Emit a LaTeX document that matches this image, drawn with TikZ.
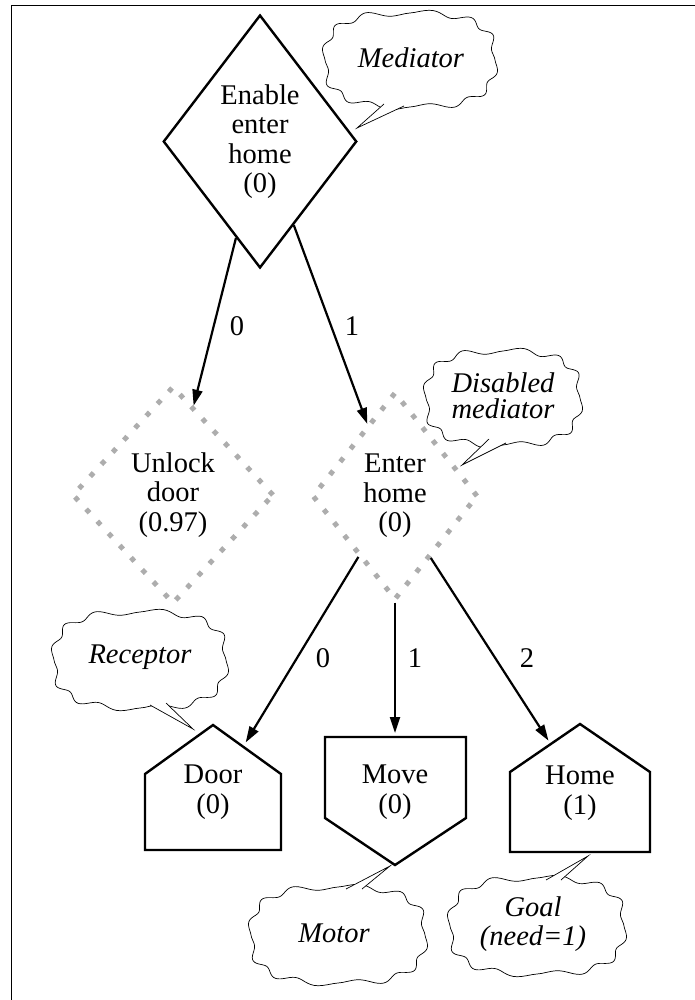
\documentclass[tikz,border=0pt]{standalone}
\usepackage{fontspec}
\setmainfont{Liberation Serif}
\usetikzlibrary{shapes.geometric,arrows.meta,calc}

% wavy speech balloon: #1 centre, #2 half width, #3 half height
% (a squarish superellipse whose radius ripples gently)
\newcommand\notecloud[3]{%
  \draw[balloon, shift={#1}]
    plot[domain=1:361, samples=181, variable=\t]
      ({(#2+3*sin(12*\t))*(cos(\t)<0 ? -1 : 1)*abs(cos(\t))^0.72},
       {(#3+3*sin(12*\t))*(sin(\t)<0 ? -1 : 1)*abs(sin(\t))^0.72}) -- cycle;}
% pointer of a balloon: #1 and #3 base points on the outline, #2 tip
\newcommand\notepointer[3]{%
  \fill[white] ($(#1)!-7pt!(#2)$) -- (#2) -- ($(#3)!-7pt!(#2)$) -- cycle;
  \draw[line width=0.7pt, line join=miter] (#1) -- (#2) -- (#3);}

\begin{document}
\begin{tikzpicture}[x=1pt, y=-1pt,
  every node/.style={font=\fontsize{28.5}{29.5}\selectfont, align=center, inner sep=0pt},
  mediatorbox/.style={diamond, draw, line width=2.4pt},
  disabledbox/.style={diamond, draw=black!32, line width=5pt, dash pattern=on 5pt off 11.5pt},
  unitshape/.style={draw, line width=2.4pt, line join=miter},
  link/.style={line width=2.2pt, -{Triangle[length=16pt, width=10pt]}},
  balloon/.style={draw, line width=0.7pt, fill=white, line join=round},
  notetext/.style={font=\itshape\fontsize{28.5}{29.5}\selectfont},
  branch/.style={}]

\useasboundingbox (0,0) rectangle (695,1000);

% frame
\draw[line width=1.4pt] (11.5,1010) -- (11.5,5.5) -- (705,5.5);

% balloons
\notecloud{(410,60)}{85}{47}
\coordinate (medb1) at (384,104); \coordinate (medtip) at (357,128); \coordinate (medb2) at (404,106);
\notepointer{medb1}{medtip}{medb2}
\node[notetext] (mediatornote) at (411,58) {Mediator};

\notecloud{(503,398)}{77}{47}
\coordinate (disb1) at (489,439); \coordinate (distip) at (462,465); \coordinate (disb2) at (506,443);
\notepointer{disb1}{distip}{disb2}
\node[notetext, font=\itshape\fontsize{28.5}{26}\selectfont] (disablednote) at (503,396) {Disabled\\mediator};

\notecloud{(140,660)}{86}{48}
\coordinate (recb1) at (150,705); \coordinate (rectip) at (193,729); \coordinate (recb2) at (166,703);
\notepointer{recb1}{rectip}{recb2}
\node[notetext] (receptornote) at (140,657) {Receptor};

\notecloud{(338,935)}{87}{48}
\coordinate (motb1) at (346,889); \coordinate (mottip) at (390,866); \coordinate (motb2) at (362,889);
\notepointer{motb1}{mottip}{motb2}
\node[notetext] (motornote) at (334,933) {Motor};

\notecloud{(537,926)}{87}{48}
\coordinate (goalb1) at (546,880); \coordinate (goaltip) at (588,856); \coordinate (goalb2) at (561,880);
\notepointer{goalb1}{goaltip}{goalb2}
\node[notetext] (goalnote) at (533,924) {Goal\\(need=1)};

% behaviour nodes
\node[mediatorbox, minimum width=186pt, minimum height=253pt] (enable) at (260,141.5) {Enable\\enter\\home\\(0)};
\node[disabledbox, minimum width=202pt, minimum height=218pt] (unlock) at (173,495) {Unlock\\door\\(0.97)};
\node[disabledbox, minimum width=166pt, minimum height=208pt] (enter) at (395,496) {Enter\\home\\(0)};

% receptor, motor and goal units
\draw[unitshape] (145,850) -- (145,774) -- (213,725) -- (281,774) -- (281,850) -- cycle;
\node (door) at (213,792) {Door\\(0)};
\draw[unitshape] (325,737) -- (466,737) -- (466,818) -- (395,865) -- (325,818) -- cycle;
\node (move) at (395,792) {Move\\(0)};
\draw[unitshape] (510,852) -- (510,772) -- (580,724) -- (650,772) -- (650,852) -- cycle;
\node (home) at (580,793) {Home\\(1)};

\coordinate (doorroof) at (243.1,746.7);
\coordinate (movetop) at (395,737);
\coordinate (homeroof) at (550.6,744);

% connectors
\draw[link] (enable.256) -- (unlock.77);
\draw[link] (enable.292) -- (enter.111);
\draw[link, shorten >=5pt] (enter.239.6) -- (doorroof);
\draw[link, shorten >=4pt] (enter.south) -- (movetop);
\draw[link, shorten >=4pt] (enter.300.4) -- (homeroof);

% branch numbers
\node[branch] (lab0) at (237,326) {0};
\node[branch] (lab1) at (352,326) {1};
\node[branch] (lab2) at (323,658) {0};
\node[branch] (lab3) at (415,658) {1};
\node[branch] (lab4) at (527,658) {2};

\end{tikzpicture}
\end{document}
